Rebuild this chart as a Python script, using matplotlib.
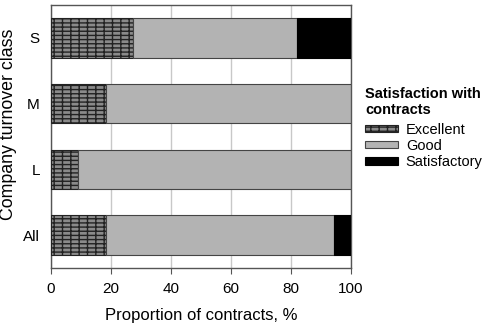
import numpy as np
import matplotlib
matplotlib.use('Agg')
from matplotlib import pyplot as plt

# data
classes = ['S', 'M', 'L', 'All']
excellent = [27.3, 18.3, 9.1, 18.3]
good = [54.7, 81.7, 90.9, 76.0]
satisfactory = [18.0, 0.0, 0.0, 5.7]

plt.rcParams['font.family'] = ['Liberation Sans', 'DejaVu Sans']
plt.rcParams['hatch.color'] = '#222222'
plt.rcParams['hatch.linewidth'] = 1.0

fig = plt.figure(figsize=(4.85, 3.25), dpi=100)
ax = fig.add_axes([51/485, 57/325, 300/485, 263/325])

y = np.arange(len(classes))
left = np.zeros(len(classes))
ax.barh(y, excellent, left=left, height=0.6, color='#8a8a8a', edgecolor='#222222',
        hatch='----||', linewidth=0.8, label='Excellent', zorder=3)
left = left + np.array(excellent)
ax.barh(y, good, left=left, height=0.6, color='#b3b3b3', edgecolor='#444444',
        linewidth=0.8, label='Good', zorder=3)
left = left + np.array(good)
ax.barh(y, satisfactory, left=left, height=0.6, color='#000000', edgecolor='#000000',
        linewidth=0.8, label='Satisfactory', zorder=3)

ax.set_xlim(0, 100)
ax.set_ylim(3.5, -0.5)
ax.set_xticks([0, 20, 40, 60, 80, 100])
ax.set_yticks(y)
ax.set_yticklabels(classes)
ax.tick_params(axis='both', labelsize=11, color='#555555')
ax.tick_params(axis='y', length=0, pad=8)
ax.tick_params(axis='x', length=4, pad=6)
ax.grid(axis='x', color='#c8c8c8', linewidth=1, zorder=0)
for s in ax.spines.values():
    s.set_color('#555555')
    s.set_linewidth(1)

ax.set_xlabel('Proportion of contracts, %', fontsize=12, labelpad=9)
fig.text(9/485, 1 - 124.5/325, 'Company turnover class', fontsize=12.8,
         rotation=90, ha='center', va='center')

leg = fig.legend(loc='upper left', bbox_to_anchor=(365/485, 1 - 87/325),
                 title='Satisfaction with\ncontracts', fontsize=10.5, title_fontsize=10.5,
                 frameon=False, handlelength=2.25, handleheight=0.4,
                 labelspacing=0.15, handletextpad=0.55, alignment='left',
                 borderpad=0, borderaxespad=0)
leg.get_title().set_fontweight('bold')
# a little more room between the title and the entries
leg._legend_box.sep = 4.0

fig.savefig('out.png', dpi=100)
